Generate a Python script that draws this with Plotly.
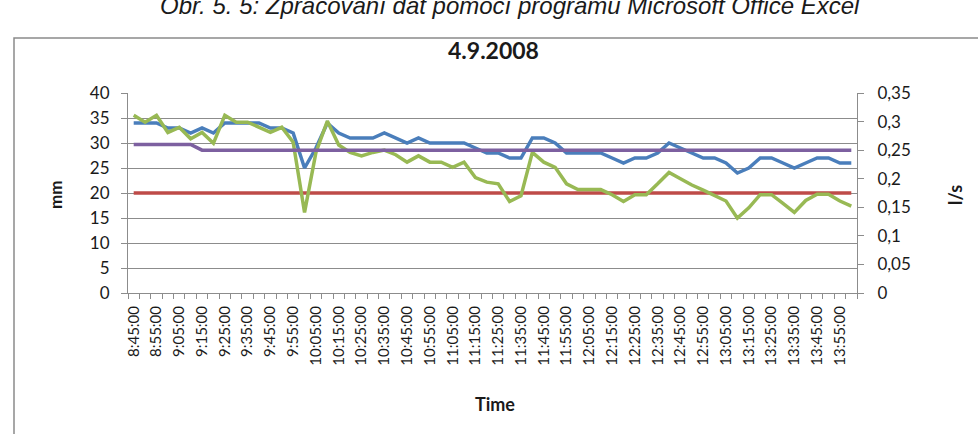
import plotly.graph_objects as go

# ---------------- data ----------------
times = [
    "8:45:00", "8:50:00", "8:55:00", "9:00:00", "9:05:00", "9:10:00", "9:15:00", "9:20:00",
    "9:25:00", "9:30:00", "9:35:00", "9:40:00", "9:45:00", "9:50:00", "9:55:00", "10:00:00",
    "10:05:00", "10:10:00", "10:15:00", "10:20:00", "10:25:00", "10:30:00", "10:35:00", "10:40:00",
    "10:45:00", "10:50:00", "10:55:00", "11:00:00", "11:05:00", "11:10:00", "11:15:00", "11:20:00",
    "11:25:00", "11:30:00", "11:35:00", "11:40:00", "11:45:00", "11:50:00", "11:55:00", "12:00:00",
    "12:05:00", "12:10:00", "12:15:00", "12:20:00", "12:25:00", "12:30:00", "12:35:00", "12:40:00",
    "12:45:00", "12:50:00", "12:55:00", "13:00:00", "13:05:00", "13:10:00", "13:15:00", "13:20:00",
    "13:25:00", "13:30:00", "13:35:00", "13:40:00", "13:45:00", "13:50:00", "13:55:00", "14:00:00",
]

# water level, mm (left axis) - blue
level_mm = [
    34, 34, 34, 33, 33, 32, 33, 32, 34, 34, 34, 34, 33, 33, 32, 25,
    29, 34, 32, 31, 31, 31, 32, 31, 30, 31, 30, 30, 30, 30, 29, 28,
    28, 27, 27, 31, 31, 30, 28, 28, 28, 28, 27, 26, 27, 27, 28, 30,
    29, 28, 27, 27, 26, 24, 25, 27, 27, 26, 25, 26, 27, 27, 26, 26,
]

# flow, l/s (right axis) - green
flow_ls = [
    0.311, 0.299, 0.311, 0.281, 0.290, 0.270, 0.281, 0.262, 0.311, 0.299, 0.299, 0.290, 0.281, 0.290, 0.264, 0.141,
    0.246, 0.301, 0.259, 0.246, 0.240, 0.246, 0.250, 0.242, 0.229, 0.240, 0.229, 0.229, 0.220, 0.229, 0.202, 0.194,
    0.191, 0.160, 0.170, 0.246, 0.229, 0.220, 0.191, 0.181, 0.181, 0.181, 0.172, 0.160, 0.172, 0.172, 0.191, 0.211,
    0.200, 0.189, 0.180, 0.170, 0.161, 0.131, 0.149, 0.172, 0.172, 0.157, 0.141, 0.162, 0.173, 0.173, 0.161, 0.152,
]

# limit level, mm (left axis) - red
limit_mm = [
    20, 20, 20, 20, 20, 20, 20, 20, 20, 20, 20, 20, 20, 20, 20, 20,
    20, 20, 20, 20, 20, 20, 20, 20, 20, 20, 20, 20, 20, 20, 20, 20,
    20, 20, 20, 20, 20, 20, 20, 20, 20, 20, 20, 20, 20, 20, 20, 20,
    20, 20, 20, 20, 20, 20, 20, 20, 20, 20, 20, 20, 20, 20, 20, 20,
]

# threshold flow, l/s (right axis) - purple
threshold_ls = [
    0.26, 0.26, 0.26, 0.26, 0.26, 0.26, 0.25, 0.25, 0.25, 0.25, 0.25, 0.25, 0.25, 0.25, 0.25, 0.25,
    0.25, 0.25, 0.25, 0.25, 0.25, 0.25, 0.25, 0.25, 0.25, 0.25, 0.25, 0.25, 0.25, 0.25, 0.25, 0.25,
    0.25, 0.25, 0.25, 0.25, 0.25, 0.25, 0.25, 0.25, 0.25, 0.25, 0.25, 0.25, 0.25, 0.25, 0.25, 0.25,
    0.25, 0.25, 0.25, 0.25, 0.25, 0.25, 0.25, 0.25, 0.25, 0.25, 0.25, 0.25, 0.25, 0.25, 0.25, 0.25,
]

left_ticks = [0, 5, 10, 15, 20, 25, 30, 35, 40]
right_tickvals = [0, 0.05, 0.1, 0.15, 0.2, 0.25, 0.3, 0.35]
right_ticktext = ["0", "0,05", "0,1", "0,15", "0,2", "0,25", "0,3", "0,35"]
x_ticktext = [t if i % 2 == 0 else "" for i, t in enumerate(times)]

# ---------------- figure ----------------
FONT = "Lato"
GRID = "#8c8c8c"
TXT = "#1a1a1a"
W, H = 978, 434
ML, MR, MT, MB = 128, 121, 93, 141
PW, PH = W - ML - MR, H - MT - MB


def px_x(px):
    return (px - ML) / PW


def px_y(py):
    return (H - MB - py) / PH


fig = go.Figure()
fig.add_trace(go.Scatter(x=times, y=level_mm, mode="lines", name="mm",
                         line=dict(color="#4A7EBB", width=3.5)))
fig.add_trace(go.Scatter(x=times, y=limit_mm, mode="lines", name="limit",
                         line=dict(color="#BE4B48", width=3.5)))
fig.add_trace(go.Scatter(x=times, y=flow_ls, mode="lines", name="l/s", yaxis="y2",
                         line=dict(color="#98B954", width=3.5)))
fig.add_trace(go.Scatter(x=times, y=threshold_ls, mode="lines", name="threshold", yaxis="y2",
                         line=dict(color="#7D60A0", width=3.5)))

fig.update_layout(
    width=W, height=H,
    margin=dict(l=ML, r=MR, t=MT, b=MB),
    paper_bgcolor="white", plot_bgcolor="white",
    showlegend=False,
    font=dict(family=FONT, color=TXT),
    xaxis=dict(
        type="category", range=[-0.5, len(times) - 0.5],
        tickvals=times, ticktext=x_ticktext, tickangle=-90,
        tickson="boundaries", ticks="outside", ticklen=5, tickcolor=GRID,
        showline=True, linecolor=GRID, linewidth=1, showgrid=False,
        tickfont=dict(family=FONT, size=15, color=TXT),
        ticklabelstandoff=6,
    ),
    yaxis=dict(
        range=[0, 40], tickvals=left_ticks,
        showgrid=True, gridcolor=GRID, gridwidth=1,
        showline=True, linecolor=GRID, linewidth=1, zeroline=False,
        ticks="outside", ticklen=6, tickcolor=GRID,
        tickfont=dict(family=FONT, size=17, color=TXT),
        ticklabelstandoff=8,
    ),
    yaxis2=dict(
        range=[0, 0.35], overlaying="y", side="right",
        tickvals=right_tickvals, ticktext=right_ticktext,
        showgrid=False, showline=True, linecolor=GRID, linewidth=1, zeroline=False,
        ticks="outside", ticklen=6, tickcolor=GRID,
        tickfont=dict(family=FONT, size=17, color=TXT),
        ticklabelstandoff=10,
    ),
    shapes=[
        dict(type="rect", xref="paper", yref="paper",
             x0=px_x(14), x1=px_x(1100), y0=px_y(38), y1=px_y(600),
             line=dict(color="#8a8a8a", width=1.5), fillcolor="rgba(0,0,0,0)", layer="below"),
    ],
    annotations=[
        dict(text="<i>Obr. 5. 5: Zpracování dat pomocí programu Microsoft Office Excel</i>",
             xref="paper", yref="paper", x=px_x(510), y=px_y(6),
             xanchor="center", yanchor="middle", showarrow=False,
             font=dict(family="Liberation Sans", size=24, color=TXT)),
        dict(text="<b>4.9.2008</b>", xref="paper", yref="paper",
             x=px_x(493), y=px_y(50), xanchor="center", yanchor="middle", showarrow=False,
             font=dict(family=FONT, size=23, color=TXT)),
        dict(text="<b>mm</b>", xref="paper", yref="paper", textangle=-90,
             x=px_x(55), y=px_y(195), xanchor="center", yanchor="middle", showarrow=False,
             font=dict(family=FONT, size=17, color=TXT)),
        dict(text="<b>l/s</b>", xref="paper", yref="paper", textangle=-90,
             x=px_x(955), y=px_y(195), xanchor="center", yanchor="middle", showarrow=False,
             font=dict(family=FONT, size=18, color=TXT)),
        dict(text="<b>Time</b>", xref="paper", yref="paper",
             x=px_x(495), y=px_y(404), xanchor="center", yanchor="middle", showarrow=False,
             font=dict(family=FONT, size=18, color=TXT)),
    ],
)

fig.write_html("out.html", config={"displayModeBar": False},
               post_script="document.body.style.margin='0px';")
